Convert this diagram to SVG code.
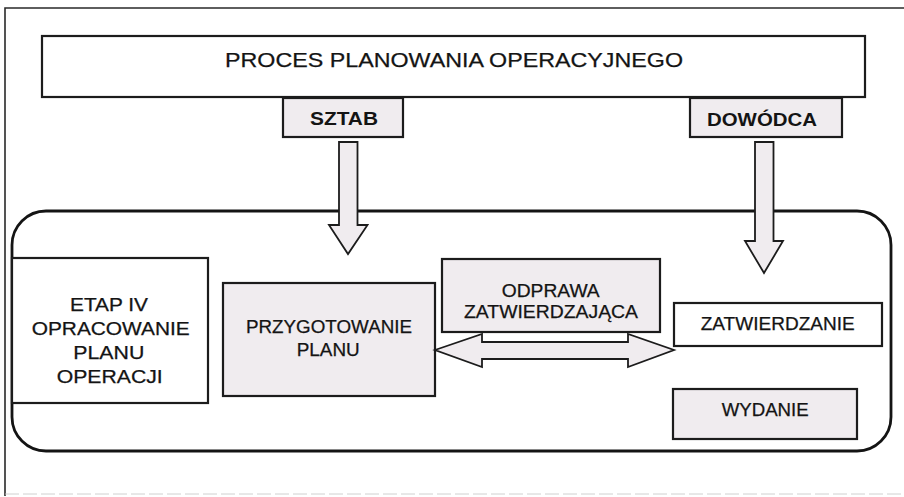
<svg xmlns="http://www.w3.org/2000/svg" width="904" height="497" viewBox="0 0 904 497">
<style>
  .box{stroke:#1c1c1c;stroke-width:2.2;}
  .white{fill:#ffffff;}
  .grey{fill:#f0ecef;}
  .arrow{fill:#f0ecef;stroke:#1c1c1c;stroke-width:1.8;stroke-linejoin:miter;}
  text{font-family:"Liberation Sans",Arial,sans-serif;font-size:17.5px;fill:#141414;stroke:#141414;stroke-width:0.25;}
  .title{font-size:21px;}
  .bold{font-weight:bold;stroke-width:0;}
</style>
<rect x="0" y="0" width="904" height="497" fill="#ffffff"/>
<g id="frame">
  <path d="M906,8 H5 V496" fill="none" stroke="#2a2a2a" stroke-width="1.6"/>
  <path d="M5,494 H906" fill="none" stroke="#c4c4c4" stroke-width="0.8" stroke-dasharray="14 4"/>
</g>
<g id="title">
  <rect class="box white" x="42" y="36" width="823" height="61"/>
  <text class="title" x="225" y="67" textLength="458" lengthAdjust="spacingAndGlyphs">PROCES PLANOWANIA OPERACYJNEGO</text>
</g>
<g id="sztab">
  <rect class="box grey" x="283" y="98" width="120" height="39"/>
  <text class="bold" x="310" y="125" textLength="68" lengthAdjust="spacingAndGlyphs">SZTAB</text>
</g>
<g id="dowodca">
  <rect class="box grey" x="690" y="98" width="152" height="39"/>
  <text class="bold" x="707" y="125.5" textLength="110" lengthAdjust="spacingAndGlyphs">DOWÓDCA</text>
</g>
<g id="container">
  <rect x="12" y="211" width="879" height="240" rx="34" ry="34" fill="none" stroke="#141414" stroke-width="2.8"/>
</g>
<g id="etap">
  <rect class="box white" x="12" y="258" width="196" height="145"/>
  <text x="70" y="311" textLength="78" lengthAdjust="spacingAndGlyphs">ETAP IV</text>
  <text x="31.7" y="335" textLength="158" lengthAdjust="spacingAndGlyphs">OPRACOWANIE</text>
  <text x="73.3" y="358.5" textLength="71" lengthAdjust="spacingAndGlyphs">PLANU</text>
  <text x="56.7" y="383" textLength="106" lengthAdjust="spacingAndGlyphs">OPERACJI</text>
</g>
<g id="przygotowanie">
  <rect class="box grey" x="223" y="283" width="212" height="113"/>
  <text x="246" y="333.3" textLength="166" lengthAdjust="spacingAndGlyphs">PRZYGOTOWANIE</text>
  <text x="296.7" y="356" textLength="63" lengthAdjust="spacingAndGlyphs">PLANU</text>
</g>
<g id="odprawa">
  <rect class="box grey" x="442" y="259" width="218" height="73"/>
  <text x="501.7" y="297.3" textLength="98" lengthAdjust="spacingAndGlyphs">ODPRAWA</text>
  <text x="464" y="318.3" textLength="174" lengthAdjust="spacingAndGlyphs">ZATWIERDZAJĄCA</text>
</g>
<g id="zatwierdzanie">
  <rect class="box white" x="674" y="303" width="208" height="43"/>
  <text x="700.7" y="330" textLength="154" lengthAdjust="spacingAndGlyphs">ZATWIERDZANIE</text>
</g>
<g id="wydanie">
  <rect class="box grey" x="673" y="389" width="184" height="50"/>
  <text x="721.7" y="416" textLength="87" lengthAdjust="spacingAndGlyphs">WYDANIE</text>
</g>
<g id="connectors">
  <polygon class="arrow" points="339,142 357.5,142 357.5,225 367.5,225 348,254 329,225 339,225"/>
  <polygon class="arrow" points="755,142 773.5,142 773.5,241 783,241 764,273 745,241 755,241"/>
  <polygon class="arrow" points="435,350 482,334 482,342 628,342 628,334 674,350 628,367 628,359 482,359 482,367"/>
</g>
</svg>
